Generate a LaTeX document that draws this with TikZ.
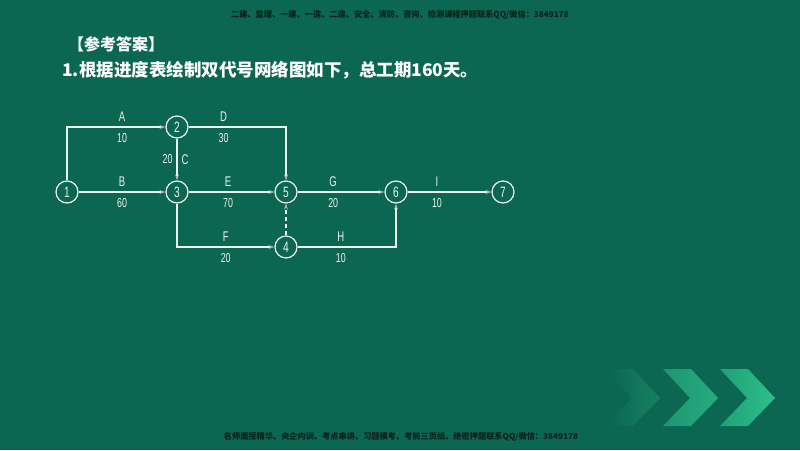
\documentclass[tikz,border=0pt]{standalone}
\usepackage{fontspec}
\usepackage{tikz}
\usetikzlibrary{
  arrows.meta,
  positioning,
  calc}
\newfontfamily\cjk{Noto Sans CJK SC}
\newfontfamily\cadfont[FakeStretch=0.68]{Liberation Sans}
\definecolor{boardgreen}{RGB}{11,102,82}
\definecolor{chalk}{RGB}{236,244,240}
\definecolor{tipgray}{RGB}{170,185,180}
\definecolor{inkdark}{RGB}{12,34,27}
\definecolor{chevA}{RGB}{16,110,86}
\definecolor{chevB}{RGB}{24,132,100}
\definecolor{chevC}{RGB}{30,150,112}
\definecolor{chevD}{RGB}{38,172,128}
\definecolor{chevE}{RGB}{32,160,118}
\definecolor{chevF}{RGB}{44,192,140}

\begin{document}
\begin{tikzpicture}[
      x=1pt, y=-1pt,
      event/.style={
        circle,
        draw=chalk,
        line width=1.2pt,
        minimum size=22pt,
        inner sep=0pt,
        text=chalk,
        font=\cadfont\fontsize{15}{15}\selectfont,
      },
      activity/.style={
        draw=chalk,
        line width=1.1pt,
        -{Stealth[length=6pt,width=4pt,color=tipgray]},
      },
      dummy/.style={
        activity,
        dashed,
        dash pattern=on 4pt off 3pt,
      },
      actlabel/.style={
        text=chalk,
        font=\cadfont\fontsize{14}{14}\selectfont,
        inner sep=0pt,
      },
      actdur/.style={
        text=chalk,
        font=\cadfont\fontsize{13}{13}\selectfont,
        inner sep=0pt,
      },
      watermark/.style={
        text=inkdark,
        font=\cjk\bfseries\fontsize{8.2}{8.2}\selectfont,
        inner sep=0pt,
      },
    ]
    \fill[boardgreen] (0,0) rectangle (800,450);
    % chevrons, bottom right
    \foreach \tx/\cl/\cr/\op in {660/boardgreen/chevB/0.9,
                                 718/chevC/chevD/1,
                                 775/chevE/chevF/1}
      \shade[left color=\cl, right color=\cr, opacity=\op]
        (\tx-55,369) -- (\tx-27,369) -- (\tx,398) -- (\tx-27,426)
        -- (\tx-55,426) -- (\tx-28,398) -- cycle;

    % heading
    \node[watermark] (top-note) at (400,15) {二建、监理、一建、一造、二造、安全、消防、咨询、检测课程押题联系QQ/微信：3849178};
    \node[anchor=west, text=white, font=\cjk\bfseries\fontsize{16}{16}\selectfont, inner sep=0pt] (answer-title) at (68,44) {【参考答案】};
    \node[anchor=west, text=white, font=\cjk\bfseries\fontsize{17.5}{17.5}\selectfont, inner sep=0pt] (answer-text) at (62,70) {1.根据进度表绘制双代号网络图如下，总工期160天。};
    \node[watermark] (bottom-note) at (401,437) {名师面授精华、央企内训、考点串讲、习题模考、考前三页纸、绝密押题联系QQ/微信：3849178};

    % events
    \coordinate (e1) at (67,192);
    \coordinate (e2) at (177,127);
    \coordinate (e3) at (177,192);
    \coordinate (e4) at (286,247);
    \coordinate (e5) at (286,192);
    \coordinate (e6) at (396,192);
    \coordinate (e7) at (503,192);
    \node[event] (e1-node) at (e1) {1};
    \node[event] (e2-node) at (e2) {2};
    \node[event] (e3-node) at (e3) {3};
    \node[event] (e4-node) at (e4) {4};
    \node[event] (e5-node) at (e5) {5};
    \node[event] (e6-node) at (e6) {6};
    \node[event] (e7-node) at (e7) {7};

    % activities
    \draw[activity] (e1-node.north) |- (e2-node.west)
      node[actlabel, pos=0.78, above=5pt] (a-name) {A}
      node[actdur, pos=0.78, below=6pt] (a-time) {10};
    \draw[activity] (e2-node.east) -| (e5-node.north)
      node[actlabel, pos=0.18, above=5pt] (d-name) {D}
      node[actdur, pos=0.18, below=6pt] (d-time) {30};
    \draw[activity] (e2-node) -- (e3-node)
      node[actdur, midway, left=4pt] (c-time) {20}
      node[actlabel, midway, right=4pt] (c-name) {C};
    \draw[activity] (e1-node) -- (e3-node)
      node[actlabel, midway, above=5pt] (b-name) {B}
      node[actdur, midway, below=6pt] (b-time) {60};
    \draw[activity] (e3-node) -- (e5-node)
      node[actlabel, pos=0.46, above=5pt] (e-name) {E}
      node[actdur, pos=0.46, below=6pt] (e-time) {70};
    \draw[activity] (e3-node.south) |- (e4-node.west)
      node[actlabel, pos=0.75, above=5pt] (f-name) {F}
      node[actdur, pos=0.75, below=6pt] (f-time) {20};
    \draw[dummy] (e4-node) -- (e5-node);
    \draw[activity] (e5-node) -- (e6-node)
      node[actlabel, pos=0.41, above=5pt] (g-name) {G}
      node[actdur, pos=0.41, below=6pt] (g-time) {20};
    \draw[activity] (e4-node.east) -| (e6-node.south)
      node[actlabel, pos=0.22, above=5pt] (h-name) {H}
      node[actdur, pos=0.22, below=6pt] (h-time) {10};
    \draw[activity] (e6-node) -- (e7-node)
      node[actlabel, pos=0.35, above=5pt] (i-name) {I}
      node[actdur, pos=0.35, below=6pt] (i-time) {10};
  \end{tikzpicture}
\end{document}
